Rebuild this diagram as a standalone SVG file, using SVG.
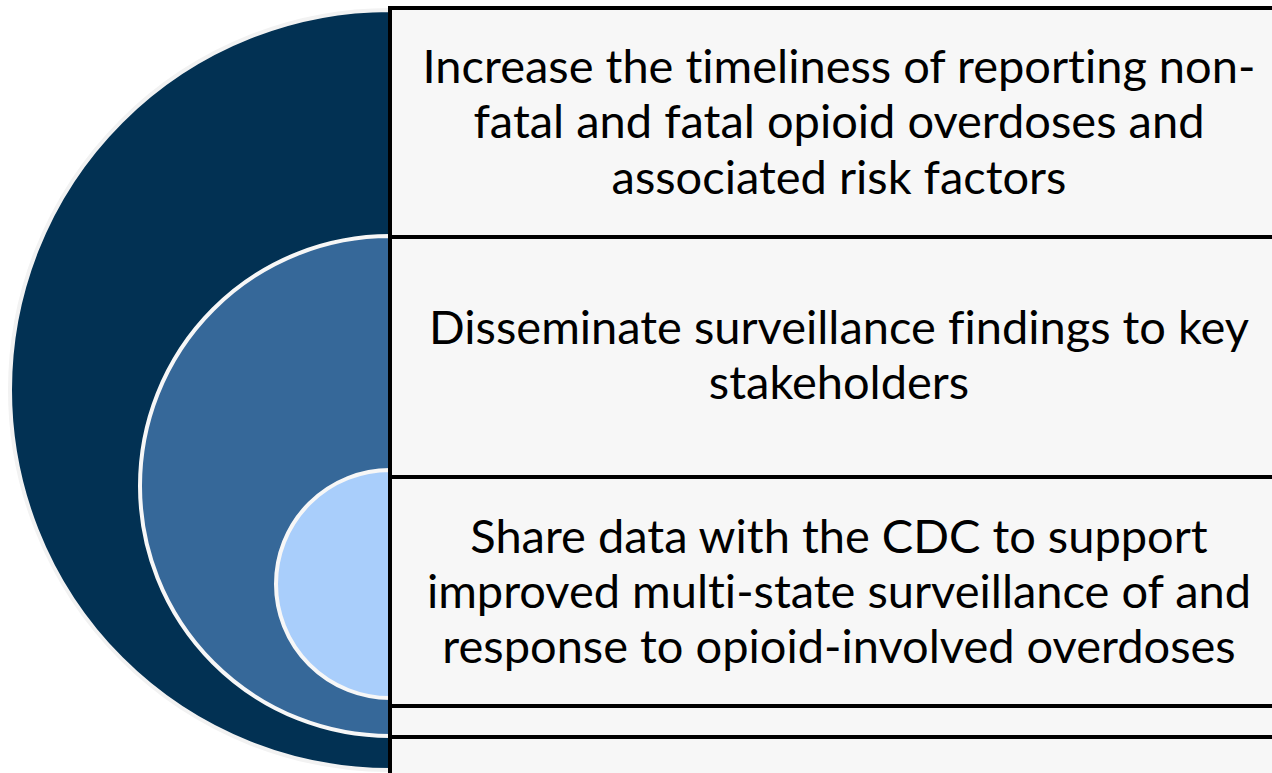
<svg xmlns="http://www.w3.org/2000/svg" width="1272" height="773" viewBox="0 0 1272 773">
<style>
.box{fill:#f7f7f7;stroke:#000;stroke-width:4}
.t{font-family:Lato,"Liberation Sans",sans-serif;font-size:47px;fill:#000;text-anchor:middle;font-variant-ligatures:none}
</style>
<rect width="1272" height="773" fill="#ffffff"/>
<g id="arc-outer"><path d="M390,10 A380,380 0 0 0 390,770 Z" fill="#023153" stroke="#f2f2f2" stroke-width="4"/></g>
<g id="arc-middle"><path d="M390,236 A250,250 0 0 0 390,736 Z" fill="#366899" stroke="#f7f7f7" stroke-width="4"/></g>
<g id="arc-inner"><path d="M390,470 A114,114 0 0 0 390,698 Z" fill="#a9cefb" stroke="#f7f7f7" stroke-width="4"/></g>
<g id="box5"><rect class="box" x="390" y="737" width="900" height="60"/></g>
<g id="box4"><rect class="box" x="390" y="706" width="900" height="31"/></g>
<g id="box3"><rect class="box" x="390" y="477" width="900" height="229"/>
<text class="t" x="839" y="553">Share data with the CDC to support</text>
<text class="t" x="839" y="608">improved multi-state surveillance of and</text>
<text class="t" x="839" y="663">response to opioid-involved overdoses</text></g>
<g id="box2"><rect class="box" x="390" y="237" width="900" height="240"/>
<text class="t" x="839" y="344">Disseminate surveillance findings to key</text>
<text class="t" x="839" y="399">stakeholders</text></g>
<g id="box1"><rect class="box" x="390" y="8" width="900" height="229"/>
<text class="t" x="839" y="83">Increase the timeliness of reporting non-</text>
<text class="t" x="839" y="138">fatal and fatal opioid overdoses and</text>
<text class="t" x="839" y="194">associated risk factors</text></g>
<g id="connectors"/>
</svg>
